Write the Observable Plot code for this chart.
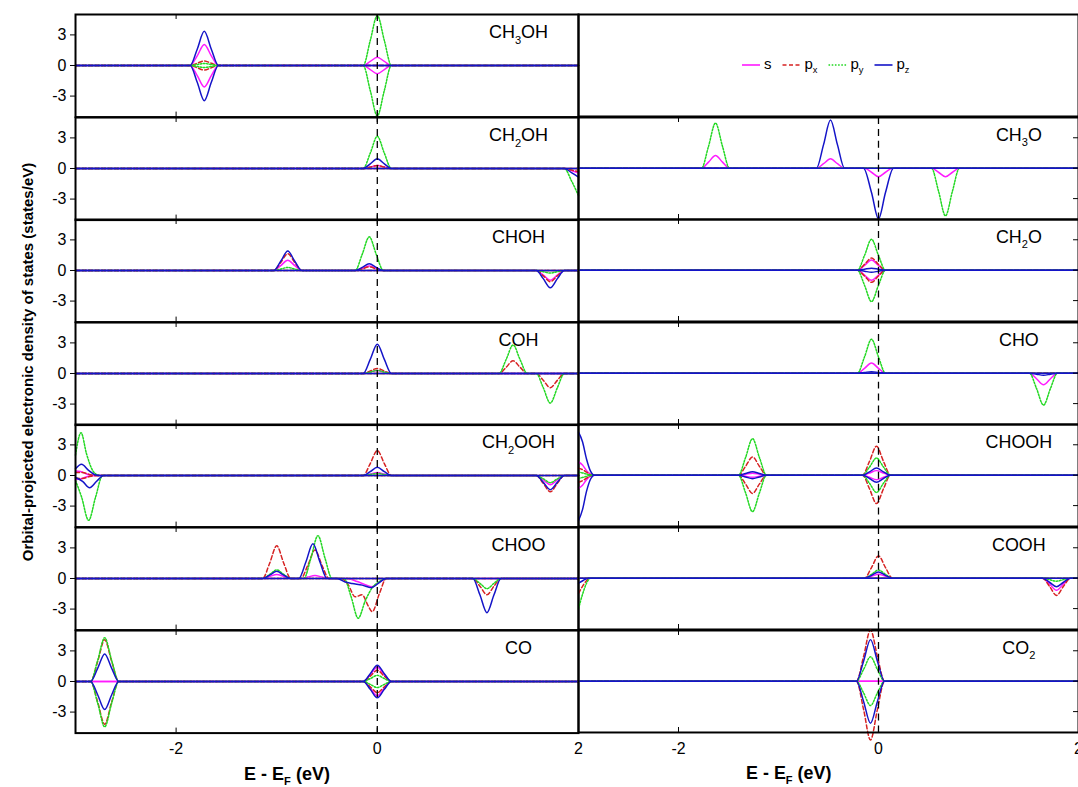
<!DOCTYPE html>
<html><head><meta charset="utf-8">
<script src="https://cdn.jsdelivr.net/npm/d3@7"></script>
<script src="https://cdn.jsdelivr.net/npm/@observablehq/plot@0.6"></script>
<style>
html,body{margin:0;padding:0;background:#fff;overflow:hidden;}
#chart{position:relative;width:1078px;height:787px;overflow:hidden;font-family:"Liberation Sans",Arial,sans-serif;background:#fff;}
#chart svg{overflow:visible;}
.panel{position:absolute;}
#ytitle{position:absolute;left:27px;top:362px;transform:translate(-50%,-50%) rotate(-90deg);white-space:nowrap;font:bold 15px "Liberation Sans",Arial,sans-serif;color:#000;}
</style></head><body><div id="chart"><div id="ytitle">Orbital-projected electronic density of states (states/eV)</div></div>
<script>
// ---------- categories / styles ----------
const orbitals = ["s", "px", "py", "pz"];
const orbitalLabels = ["s", "p_x", "p_y", "p_z"];
const orbitalColors = ["#ff1aff", "#d62222", "#22d822", "#1414c8"];
const orbitalDash = [null, "4,2.5", "1.6,1.6", null];
const spins = ["up", "dn"];
const xDomain = [-3, 2];
const yDomain = [-5.06, 5];
const xTicks = [-2, 0, 2];
const yTicks = [-3, 0, 3];
const xTitle = "E - E_F (eV)";

// ---------- series values: [energy, DOS, energy, DOS, ...] ----------
const CH3OH = {
  s_up: [-1.86,0,-1.79,0.95,-1.72,2.05,-1.65,0.95,-1.58,0, -0.14,0,-0.07,0.4,0,0.8,0.07,0.4,0.14,0],
  s_dn: [-1.86,0,-1.79,-1.0,-1.72,-2.1,-1.65,-1.0,-1.58,0, -0.14,0,-0.07,-0.4,0,-0.8,0.07,-0.4,0.14,0],
  px_up: [-1.86,0,-1.79,0.22,-1.72,0.45,-1.65,0.22,-1.58,0],
  px_dn: [-1.86,0,-1.79,-0.22,-1.72,-0.45,-1.65,-0.22,-1.58,0],
  py_up: [-1.86,0,-1.79,0.1,-1.72,0.2,-1.65,0.1,-1.58,0, -0.14,0,-0.07,2.45,0,4.9,0.07,2.45,0.14,0],
  py_dn: [-1.86,0,-1.79,-0.1,-1.72,-0.2,-1.65,-0.1,-1.58,0, -0.14,0,-0.07,-2.45,0,-4.95,0.07,-2.45,0.14,0],
  pz_up: [-1.86,0,-1.79,1.6,-1.72,3.35,-1.65,1.6,-1.58,0],
  pz_dn: [-1.86,0,-1.79,-1.65,-1.72,-3.45,-1.65,-1.65,-1.58,0]
};
const CH2OH = {
  s_up: [-0.14,0,-0.07,0.14,0,0.3,0.07,0.14,0.14,0],
  s_dn: [1.86,0,1.93,-0.2,2,-0.45],
  px_up: [-0.14,0,-0.07,0.14,0,0.3,0.07,0.14,0.14,0],
  px_dn: [1.86,0,1.93,-0.15,2,-0.3],
  py_up: [-0.14,0,-0.07,1.5,0,3.15,0.07,1.5,0.14,0],
  py_dn: [1.86,0,1.93,-1.2,2,-2.65],
  pz_up: [-0.14,0,-0.07,0.45,0,0.95,0.07,0.45,0.14,0],
  pz_dn: [1.86,0,1.93,-0.4,2,-0.85]
};
const CH3O = {
  s_up: [-1.77,0,-1.7,0.6,-1.63,1.25,-1.56,0.6,-1.49,0, -0.62,0,-0.55,0.44,-0.48,0.92,-0.41,0.44,-0.34,0],
  s_dn: [-0.14,0,-0.07,-0.4,0,-0.85,0.07,-0.4,0.14,0, 0.53,0,0.6,-0.4,0.67,-0.85,0.74,-0.4,0.81,0],
  py_up: [-1.77,0,-1.7,2.15,-1.63,4.45,-1.56,2.15,-1.49,0],
  py_dn: [0.53,0,0.6,-2.25,0.67,-4.7,0.74,-2.25,0.81,0],
  pz_up: [-0.62,0,-0.55,2.3,-0.48,4.75,-0.41,2.3,-0.34,0],
  pz_dn: [-0.15,0,-0.07,-2.4,0,-5.0,0.07,-2.4,0.15,0]
};
const CHOH = {
  s_up: [-1.03,0,-0.96,0.48,-0.89,1.0,-0.82,0.48,-0.75,0, -0.22,0,-0.15,0.21,-0.08,0.45,-0.01,0.21,0.06,0],
  s_dn: [1.58,0,1.65,-0.45,1.72,-0.95,1.79,-0.45,1.86,0],
  px_up: [-1.03,0,-0.96,0.78,-0.89,1.65,-0.82,0.78,-0.75,0, -0.22,0,-0.15,0.16,-0.08,0.35,-0.01,0.16,0.06,0],
  px_dn: [1.58,0,1.65,-0.52,1.72,-1.1,1.79,-0.52,1.86,0],
  py_up: [-1.03,0,-0.96,0.14,-0.89,0.3,-0.82,0.14,-0.75,0, -0.22,0,-0.15,1.58,-0.08,3.3,-0.01,1.58,0.06,0],
  py_dn: [1.58,0,1.65,-0.12,1.72,-0.25,1.79,-0.12,1.86,0],
  pz_up: [-1.03,0,-0.96,0.9,-0.89,1.9,-0.82,0.9,-0.75,0, -0.22,0,-0.15,0.3,-0.08,0.65,-0.01,0.3,0.06,0],
  pz_dn: [1.58,0,1.65,-0.8,1.72,-1.7,1.79,-0.8,1.86,0]
};
const CH2O = {
  s_up: [-0.21,0,-0.14,0.48,-0.07,1.0,0,0.48,0.07,0],
  s_dn: [-0.21,0,-0.14,-0.48,-0.07,-1.0,0,-0.48,0.07,0],
  px_up: [-0.21,0,-0.14,0.57,-0.07,1.2,0,0.57,0.07,0],
  px_dn: [-0.21,0,-0.14,-0.57,-0.07,-1.2,0,-0.57,0.07,0],
  py_up: [-0.21,0,-0.14,1.45,-0.07,3.05,0,1.45,0.07,0],
  py_dn: [-0.21,0,-0.14,-1.48,-0.07,-3.1,0,-1.48,0.07,0],
  pz_up: [-0.21,0,-0.14,0.1,-0.07,0.2,0,0.1,0.07,0],
  pz_dn: [-0.21,0,-0.14,-0.1,-0.07,-0.2,0,-0.1,0.07,0]
};
const COH = {
  s_up: [-0.14,0,-0.07,0.14,0,0.3,0.07,0.14,0.14,0],
  px_up: [-0.14,0,-0.07,0.24,0,0.5,0.07,0.24,0.14,0, 1.21,0,1.28,0.6,1.35,1.25,1.42,0.6,1.49,0],
  px_dn: [1.58,0,1.65,-0.67,1.72,-1.4,1.79,-0.67,1.86,0],
  py_up: [-0.14,0,-0.07,0.14,0,0.3,0.07,0.14,0.14,0, 1.21,0,1.28,1.35,1.35,2.8,1.42,1.35,1.49,0],
  py_dn: [1.58,0,1.65,-1.4,1.72,-2.9,1.79,-1.4,1.86,0],
  pz_up: [-0.14,0,-0.07,1.38,0,2.87,0.07,1.38,0.14,0]
};
const CHO = {
  s_up: [-0.21,0,-0.14,0.48,-0.07,1.0,0,0.48,0.07,0],
  s_dn: [1.51,0,1.58,-0.55,1.65,-1.15,1.72,-0.55,1.79,0],
  py_up: [-0.21,0,-0.14,1.6,-0.07,3.35,0,1.6,0.07,0],
  py_dn: [1.51,0,1.58,-1.5,1.65,-3.15,1.72,-1.5,1.79,0],
  pz_up: [-0.21,0,-0.14,0.07,-0.07,0.15,0,0.07,0.07,0],
  pz_dn: [1.51,0,1.58,-0.1,1.65,-0.2,1.72,-0.1,1.79,0]
};
const CH2OOH = {
  s_up: [-3,0.45,-2.95,0.4,-2.89,0.15,-2.83,0, -0.14,0,-0.07,0.14,0,0.3,0.07,0.14,0.14,0],
  s_dn: [-3,-0.4,-2.95,-0.35,-2.89,-0.12,-2.83,0, 1.58,0,1.65,-0.43,1.72,-0.9,1.79,-0.43,1.86,0],
  px_up: [-3,0.3,-2.93,0.3,-2.86,0.1,-2.8,0, -0.14,0,-0.07,1.17,0,2.45,0.07,1.17,0.14,0],
  px_dn: [-3,-0.25,-2.93,-0.3,-2.86,-0.1,-2.8,0, 1.58,0,1.65,-0.77,1.72,-1.6,1.79,-0.77,1.86,0],
  py_up: [-3,2.0,-2.945,4.2,-2.89,2.1,-2.82,0.35,-2.76,0, -0.14,0,-0.07,0.1,0,0.2,0.07,0.1,0.14,0],
  py_dn: [-3,-0.5,-2.94,-2.1,-2.87,-4.4,-2.8,-2.1,-2.73,0, 1.58,0,1.65,-0.33,1.72,-0.7,1.79,-0.33,1.86,0],
  pz_up: [-3,0.65,-2.94,1.1,-2.87,0.5,-2.8,0.05,-2.75,0, -0.14,0,-0.07,0.38,0,0.8,0.07,0.38,0.14,0],
  pz_dn: [-3,-0.2,-2.93,-0.57,-2.86,-1.2,-2.79,-0.57,-2.72,0, 1.58,0,1.65,-0.67,1.72,-1.4,1.79,-0.67,1.86,0]
};
const CHOOH = {
  s_up: [-3,1.3,-2.96,1.0,-2.92,0.45,-2.88,0.1,-2.85,0, -1.4,0,-1.33,0.1,-1.26,0.2,-1.19,0.1,-1.12,0, -0.16,0,-0.09,0.21,-0.02,0.45,0.05,0.21,0.12,0],
  s_dn: [-3,-1.3,-2.96,-1.0,-2.92,-0.45,-2.88,-0.1,-2.85,0, -1.4,0,-1.33,-0.1,-1.26,-0.2,-1.19,-0.1,-1.12,0, -0.16,0,-0.09,-0.21,-0.02,-0.45,0.05,-0.21,0.12,0],
  px_up: [-3,0.7,-2.96,0.55,-2.92,0.3,-2.88,0.05,-2.85,0, -1.4,0,-1.33,0.86,-1.26,1.8,-1.19,0.86,-1.12,0, -0.16,0,-0.09,1.36,-0.02,2.85,0.05,1.36,0.12,0],
  px_dn: [-3,-0.7,-2.96,-0.55,-2.92,-0.3,-2.88,-0.05,-2.85,0, -1.4,0,-1.33,-0.86,-1.26,-1.8,-1.19,-0.86,-1.12,0, -0.16,0,-0.09,-1.34,-0.02,-2.8,0.05,-1.34,0.12,0],
  py_up: [-3,0.3,-2.95,0.2,-2.9,0.05,-2.86,0, -1.4,0,-1.33,1.72,-1.26,3.6,-1.19,1.72,-1.12,0, -0.16,0,-0.09,0.8,-0.02,1.7,0.05,0.8,0.12,0],
  py_dn: [-3,-0.3,-2.95,-0.2,-2.9,-0.05,-2.86,0, -1.4,0,-1.33,-1.72,-1.26,-3.6,-1.19,-1.72,-1.12,0, -0.16,0,-0.09,-0.8,-0.02,-1.7,0.05,-0.8,0.12,0],
  pz_up: [-3,4.25,-2.96,3.3,-2.92,1.6,-2.88,0.4,-2.84,0, -1.4,0,-1.33,0.17,-1.26,0.35,-1.19,0.17,-1.12,0, -0.16,0,-0.09,0.33,-0.02,0.7,0.05,0.33,0.12,0],
  pz_dn: [-3,-4.5,-2.96,-3.4,-2.92,-1.6,-2.88,-0.4,-2.84,0, -1.4,0,-1.33,-0.17,-1.26,-0.35,-1.19,-0.17,-1.12,0, -0.16,0,-0.09,-0.33,-0.02,-0.7,0.05,-0.33,0.12,0]
};
const CHOO = {
  s_up: [-1.14,0,-1.07,0.19,-1.0,0.4,-0.93,0.19,-0.86,0, -0.76,0,-0.69,0.14,-0.62,0.3,-0.55,0.14,-0.48,0],
  s_dn: [-0.3,0,-0.2,-0.3,-0.12,-0.6,-0.05,-0.8,0.02,-0.35,0.09,0],
  px_up: [-1.14,0,-1.07,1.5,-1.0,3.2,-0.93,1.5,-0.86,0, -0.76,0,-0.69,1.3,-0.62,2.8,-0.55,1.3,-0.48,0],
  px_dn: [-0.36,0,-0.29,-0.6,-0.22,-1.8,-0.15,-1.6,-0.09,-2.7,-0.05,-3.25,0.02,-1.5,0.09,0, 0.95,0,1.02,-0.75,1.09,-1.6,1.16,-0.75,1.23,0],
  py_up: [-1.14,0,-1.07,0.4,-1.0,0.85,-0.93,0.4,-0.86,0, -0.73,0,-0.66,2.0,-0.59,4.2,-0.52,2.0,-0.45,0],
  py_dn: [-0.33,0,-0.26,-1.8,-0.19,-3.9,-0.12,-2.2,-0.05,-0.9,0.02,-0.3,0.09,0, 0.95,0,1.02,-0.47,1.09,-1.0,1.16,-0.47,1.23,0],
  pz_up: [-1.14,0,-1.07,0.33,-1.0,0.7,-0.93,0.33,-0.86,0, -0.78,0,-0.71,1.62,-0.64,3.4,-0.57,1.62,-0.5,0],
  pz_dn: [-0.4,0,-0.32,-0.35,-0.25,-0.5,-0.15,-0.65,-0.06,-0.9,0.02,-0.4,0.09,0, 0.95,0,1.02,-1.6,1.09,-3.35,1.16,-1.6,1.23,0]
};
const COOH = {
  s_up: [-0.14,0,-0.07,0.19,0,0.4,0.07,0.19,0.14,0],
  s_dn: [1.64,0,1.71,-0.57,1.78,-1.2,1.85,-0.57,1.92,0],
  px_up: [-0.14,0,-0.07,1.05,0,2.2,0.07,1.05,0.14,0],
  px_dn: [-3,-1.5,-2.96,-0.8,-2.92,-0.25,-2.88,0, 1.64,0,1.71,-0.8,1.78,-1.7,1.85,-0.8,1.92,0],
  py_up: [-0.14,0,-0.07,0.38,0,0.8,0.07,0.38,0.14,0],
  py_dn: [-3,-3.0,-2.96,-1.6,-2.92,-0.5,-2.88,0, 1.64,0,1.71,-0.14,1.78,-0.3,1.85,-0.14,1.92,0],
  pz_up: [-0.14,0,-0.07,0.28,0,0.6,0.07,0.28,0.14,0],
  pz_dn: [-3,-0.5,-2.95,-0.2,-2.9,0, 1.64,0,1.71,-0.4,1.78,-0.85,1.85,-0.4,1.92,0]
};
const CO = {
  s_up: [-0.14,0,-0.07,0.66,0,1.4,0.07,0.66,0.14,0],
  s_dn: [-0.14,0,-0.07,-0.66,0,-1.4,0.07,-0.66,0.14,0],
  px_up: [-2.85,0,-2.78,1.95,-2.71,4.1,-2.64,1.95,-2.57,0, -0.14,0,-0.07,0.52,0,1.1,0.07,0.52,0.14,0],
  px_dn: [-2.85,0,-2.78,-2.0,-2.71,-4.2,-2.64,-2.0,-2.57,0, -0.14,0,-0.07,-0.52,0,-1.1,0.07,-0.52,0.14,0],
  py_up: [-2.85,0,-2.78,2.05,-2.71,4.3,-2.64,2.05,-2.57,0, -0.14,0,-0.07,0.28,0,0.6,0.07,0.28,0.14,0],
  py_dn: [-2.85,0,-2.78,-2.1,-2.71,-4.45,-2.64,-2.1,-2.57,0, -0.14,0,-0.07,-0.28,0,-0.6,0.07,-0.28,0.14,0],
  pz_up: [-2.85,0,-2.78,1.28,-2.71,2.7,-2.64,1.28,-2.57,0, -0.14,0,-0.07,0.76,0,1.6,0.07,0.76,0.14,0],
  pz_dn: [-2.85,0,-2.78,-1.3,-2.71,-2.75,-2.64,-1.3,-2.57,0, -0.14,0,-0.07,-0.76,0,-1.6,0.07,-0.76,0.14,0]
};
const CO2 = {
  px_up: [-0.22,0,-0.15,2.4,-0.08,5.05,-0.01,2.4,0.06,0],
  px_dn: [-0.22,0,-0.15,-2.75,-0.08,-5.8,-0.01,-2.75,0.06,0],
  py_up: [-0.22,0,-0.15,1.14,-0.08,2.4,-0.01,1.14,0.06,0],
  py_dn: [-0.22,0,-0.15,-1.14,-0.08,-2.4,-0.01,-1.14,0.06,0],
  pz_up: [-0.22,0,-0.15,1.95,-0.08,4.1,-0.01,1.95,0.06,0],
  pz_dn: [-0.22,0,-0.15,-1.97,-0.08,-4.15,-0.01,-1.97,0.06,0]
};

// panel order: row by row, left then right (null = legend panel)
const panelNames = ["CH_3OH", null, "CH_2OH", "CH_3O", "CHOH", "CH_2O", "COH", "CHO", "CH_2OOH", "CHOOH", "CHOO", "COOH", "CO", "CO_2"];
const panelData = [CH3OH, null, CH2OH, CH3O, CHOH, CH2O, COH, CHO, CH2OOH, CHOOH, CHOO, COOH, CO, CO2];

// ---------- layout ----------
const W = 503, H = 102.6, TOP = 14, LEFT = 75;
const nRows = 7;
const chart = document.getElementById("chart");
const SVGNS = "http://www.w3.org/2000/svg";

function subify(root) {
  root.querySelectorAll("text").forEach(t => {
    const s = t.textContent;
    if (!s.includes("_")) return;
    const fs = parseFloat(getComputedStyle(t).fontSize) || 16;
    const parts = s.split(/_(.)/);
    while (t.firstChild) t.removeChild(t.firstChild);
    let shifted = false;
    parts.forEach((part, i) => {
      if (part === "") return;
      const ts = document.createElementNS(SVGNS, "tspan");
      ts.textContent = part;
      if (i % 2 === 1) { ts.setAttribute("font-size", fs * 0.62); ts.setAttribute("dy", fs * 0.3); shifted = true; }
      else if (shifted) { ts.setAttribute("dy", -fs * 0.3); shifted = false; }
      t.appendChild(ts);
    });
  });
}

function records(data) {
  const recs = [];
  for (const o of orbitals) for (const s of spins) {
    const flat = data[o + "_" + s] || [];
    const pts = [];
    for (let i = 0; i < flat.length; i += 2) pts.push([flat[i], flat[i + 1]]);
    if (!pts.length || pts[0][0] > xDomain[0]) pts.unshift([xDomain[0], 0]);
    if (pts[pts.length - 1][0] < xDomain[1]) pts.push([xDomain[1], 0]);
    for (const [x, y] of pts) recs.push({orb: o, spin: s, x, y});
  }
  return recs;
}

panelNames.forEach((name, i) => {
  const row = Math.floor(i / 2), col = i % 2;
  const data = panelData[i];
  const isLeft = col === 0, isBottom = row === nRows - 1;
  const mL = isLeft ? LEFT : 0;
  const mB = isBottom ? 60 : 0;
  const marks = [];
  if (data) {
    const recs = records(data);
    orbitals.forEach((o, k) => {
      marks.push(Plot.line(recs.filter(d => d.orb === o), {
        x: "x", y: "y", z: "spin", stroke: orbitalColors[k], strokeWidth: 1.5,
        strokeDasharray: orbitalDash[k], curve: "monotone-x"
      }));
    });
    marks.push(Plot.ruleX([0], {stroke: "#000", strokeWidth: 1.3, strokeDasharray: "7,5"}));
    marks.push(Plot.tickX(xTicks, {x: d => d, insetTop: H - 5, stroke: "#000"}));
    marks.push(Plot.tickX(xTicks, {x: d => d, insetBottom: H - 5, stroke: "#000"}));
    if (!isLeft) marks.push(Plot.tickY(yTicks, {y: d => d, insetLeft: W - 5, stroke: "#000"}));
    marks.push(Plot.text([name], {
      text: d => d, frameAnchor: "top-right", dx: -60, dy: 18,
      textAnchor: "middle", lineAnchor: "middle", fontSize: 18, fill: "#000"
    }));
  }
  if (isLeft) marks.push(Plot.axisY({ticks: yTicks, tickSize: 5, tickPadding: 4, label: null, tickFormat: d => String(d), fontSize: 16}));
  if (isBottom) {
    marks.push(Plot.axisX({ticks: xTicks, tickSize: 0, tickPadding: 10, label: null, tickFormat: d => String(d), fontSize: 16}));
    marks.push(Plot.text([xTitle], {
      text: d => d, frameAnchor: "bottom", dx: -40, dy: 41,
      lineAnchor: "middle", fontSize: 18, fontWeight: "bold", fill: "#000"
    }));
  }
  marks.push(Plot.frame({stroke: "#000", strokeWidth: 2}));
  const svg = Plot.plot({
    width: mL + W, height: H + mB,
    marginLeft: mL, marginRight: 0, marginTop: 0, marginBottom: mB,
    x: {domain: xDomain, axis: null},
    y: {domain: yDomain, axis: null},
    style: {fontFamily: '"Liberation Sans", Arial, sans-serif', fontSize: "16px", color: "#000", background: "transparent", overflow: "visible"},
    marks
  });
  const div = document.createElement("div");
  div.className = "panel";
  div.style.left = (isLeft ? 0 : LEFT + W) + "px";
  div.style.top = (TOP + row * H) + "px";
  div.appendChild(svg);
  chart.appendChild(div);
  subify(svg);
});

// ---------- legend (inside the empty top-right panel) ----------
{
  const lg = d3.create("svg").attr("width", W).attr("height", H)
    .style("position", "absolute").style("left", (LEFT + W) + "px").style("top", TOP + "px").style("overflow", "visible");
  chart.appendChild(lg.node());
  const yMid = H * (yDomain[1] / (yDomain[1] - yDomain[0]));
  let x = 164;
  orbitals.forEach((o, k) => {
    lg.append("line").attr("x1", x).attr("x2", x + 18).attr("y1", yMid).attr("y2", yMid)
      .attr("stroke", orbitalColors[k]).attr("stroke-width", 1.6)
      .attr("stroke-dasharray", orbitalDash[k]);
    const t = lg.append("text").attr("x", x + 22).attr("y", yMid).attr("dy", "0.26em")
      .attr("font-size", 15).attr("font-family", '"Liberation Sans", Arial, sans-serif')
      .attr("fill", "#000").text(orbitalLabels[k]);
    subify(lg.node());
    x += 22 + t.node().getComputedTextLength() + 11;
  });
}
</script></body></html>
